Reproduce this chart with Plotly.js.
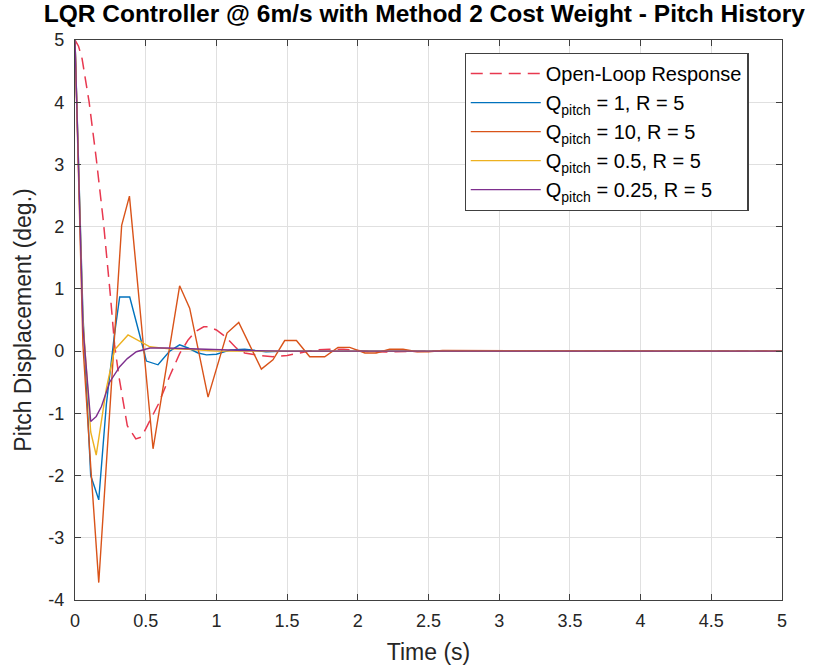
<!DOCTYPE html>
<html>
<head>
<meta charset="utf-8">
<script src="https://cdn.plot.ly/plotly-3.0.1.min.js"></script>
<style>html,body{margin:0;padding:0;background:#fff;}#chart{width:816px;height:668px;}</style>
</head>
<body>
<div id="chart"></div>
<script>
// Open-loop response (red dashed)
const openT = [0, 0.025, 0.05, 0.1, 0.15, 0.18, 0.2, 0.25, 0.28, 0.31, 0.37, 0.43, 0.47, 0.5, 0.59, 0.67, 0.74, 0.8, 0.85, 0.91, 0.95, 1.0, 1.07, 1.14, 1.2, 1.3, 1.4, 1.5, 1.6, 1.7, 1.8, 1.9, 2.0, 2.1, 2.2, 2.4, 2.6, 3.0, 4.0, 5.0];
const openY = [5, 4.9, 4.7, 4.0, 3.1, 2.5, 2.1, 0.9, 0.1, -0.4, -1.2, -1.41, -1.38, -1.25, -0.85, -0.4, -0.04, 0.18, 0.31, 0.39, 0.39, 0.34, 0.22, 0.05, -0.03, -0.07, -0.09, -0.07, -0.02, 0.02, 0.03, 0.03, 0.01, -0.01, -0.015, 0, 0.005, 0, 0, 0];

// Q_pitch = 1, R = 5 (blue)
const q1T = [0, 0.056, 0.111, 0.168, 0.222, 0.278, 0.316, 0.387, 0.47, 0.505, 0.587, 0.67, 0.74, 0.8, 0.87, 0.93, 1.0, 1.1, 1.2, 1.35, 1.5, 2.0, 3.0, 4.0, 5.0];
const q1Y = [5, 0.6, -2.0, -2.39, -0.85, 0.25, 0.87, 0.87, 0.15, -0.16, -0.22, 0.0, 0.1, 0.05, -0.03, -0.06, -0.05, 0.02, 0.03, -0.01, 0, 0, 0, 0, 0];

// Q_pitch = 10, R = 5 (orange)
const q10T = [0, 0.056, 0.111, 0.168, 0.33, 0.385, 0.552, 0.74, 0.811, 0.941, 1.075, 1.158, 1.318, 1.40, 1.483, 1.566, 1.66, 1.766, 1.86, 1.943, 2.05, 2.13, 2.225, 2.32, 2.42, 2.5, 2.6, 2.7, 2.8, 3.0, 4.0, 5.0];
const q10Y = [5, 0.1, -1.85, -3.72, 2.02, 2.49, -1.57, 1.05, 0.69, -0.74, 0.29, 0.46, -0.29, -0.14, 0.17, 0.17, -0.09, -0.09, 0.06, 0.06, -0.03, -0.03, 0.03, 0.03, -0.01, -0.01, 0.01, 0.01, 0, 0, 0, 0];

// Q_pitch = 0.5, R = 5 (yellow)
const q05T = [0, 0.056, 0.111, 0.15, 0.222, 0.28, 0.375, 0.47, 0.53, 0.65, 0.8, 1.0, 1.5, 2.0, 3.0, 4.0, 5.0];
const q05Y = [5, 0.5, -1.3, -1.67, -0.6, 0.02, 0.26, 0.15, 0.07, 0.04, 0.03, 0.0, 0, 0, 0, 0, 0];

// Q_pitch = 0.25, R = 5 (purple)
const q025T = [0, 0.056, 0.111, 0.15, 0.187, 0.245, 0.316, 0.37, 0.434, 0.53, 0.65, 0.8, 1.0, 1.2, 1.5, 2.0, 3.0, 4.0, 5.0];
const q025Y = [5, 0.4, -1.13, -1.05, -0.89, -0.5, -0.25, -0.12, -0.01, 0.05, 0.05, 0.04, 0.02, 0.01, 0, 0, 0, 0, 0];

const seriesNames = [
  'Open-Loop Response',
  'Q<sub>pitch</sub> = 1, R = 5',
  'Q<sub>pitch</sub> = 10, R = 5',
  'Q<sub>pitch</sub> = 0.5, R = 5',
  'Q<sub>pitch</sub> = 0.25, R = 5'
];
const xTickVals = [0, 0.5, 1, 1.5, 2, 2.5, 3, 3.5, 4, 4.5, 5];
const xTickText = ['0', '0.5', '1', '1.5', '2', '2.5', '3', '3.5', '4', '4.5', '5'];
const yTickVals = [-4, -3, -2, -1, 0, 1, 2, 3, 4, 5];
const yTickText = ['-4', '-3', '-2', '-1', '0', '1', '2', '3', '4', '5'];

const FONT = 'Liberation Sans, Arial, Helvetica, sans-serif';
const AX = '#262626';

const traces = [
  {x: openT, y: openY, name: seriesNames[0], mode: 'lines', line: {color: '#E8384F', width: 1.5, dash: '12px,7px'}},
  {x: q1T, y: q1Y, name: seriesNames[1], mode: 'lines', line: {color: '#0072BD', width: 1.4}},
  {x: q10T, y: q10Y, name: seriesNames[2], mode: 'lines', line: {color: '#D95319', width: 1.4}},
  {x: q05T, y: q05Y, name: seriesNames[3], mode: 'lines', line: {color: '#EDB120', width: 1.4}},
  {x: q025T, y: q025Y, name: seriesNames[4], mode: 'lines', line: {color: '#7E2F8E', width: 1.4}}
];

const layout = {
  width: 816, height: 668,
  margin: {l: 75, r: 34, t: 40, b: 68, pad: 0},
  paper_bgcolor: '#fff', plot_bgcolor: '#fff',
  font: {family: FONT, color: AX, size: 18},
  title: {text: '<b>LQR Controller @ 6m/s with Method 2 Cost Weight - Pitch History</b>', font: {family: FONT, size: 24.5, color: '#000'}, x: 0.52, xanchor: 'center', y: 0.992, yanchor: 'top'},
  xaxis: {
    range: [0, 5], tickvals: xTickVals, ticktext: xTickText,
    showgrid: true, gridcolor: '#e0e0e0', gridwidth: 1,
    zeroline: false, showline: true, mirror: 'ticks', linecolor: '#404040', linewidth: 1.2,
    ticks: 'inside', ticklen: 6, tickcolor: '#404040', tickfont: {size: 18, color: AX},
    ticklabelstandoff: 4,
    title: {text: 'Time (s)', font: {size: 23, color: AX}, standoff: 14}
  },
  yaxis: {
    range: [-4, 5], tickvals: yTickVals, ticktext: yTickText,
    showgrid: true, gridcolor: '#e0e0e0', gridwidth: 1,
    zeroline: false, showline: true, mirror: 'ticks', linecolor: '#404040', linewidth: 1.2,
    ticks: 'inside', ticklen: 6, tickcolor: '#404040', tickfont: {size: 18, color: AX},
    ticklabelstandoff: 6,
    title: {text: 'Pitch Displacement (deg.)', font: {size: 23, color: AX}, standoff: 10}
  },
  showlegend: true,
  legend: {
    x: 0.551, y: 0.977, xanchor: 'left', yanchor: 'top',
    bgcolor: '#fff', bordercolor: '#404040', borderwidth: 1.2,
    font: {size: 20, color: '#000', family: FONT},
    itemwidth: 70, tracegroupgap: 0
  }
};

Plotly.newPlot('chart', traces, layout, {displayModeBar: false, staticPlot: true});
</script>
</body>
</html>
